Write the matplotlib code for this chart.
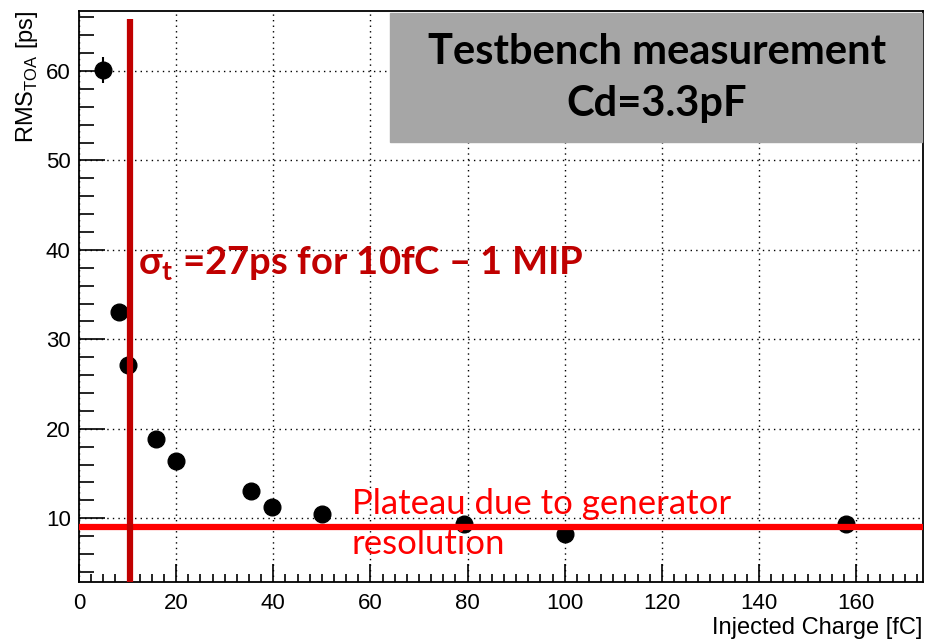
import numpy as np
import matplotlib
matplotlib.use("Agg")
import matplotlib.pyplot as plt
from matplotlib.ticker import MultipleLocator

# time resolution vs injected charge
charge_fc = [5.0, 8.2, 10.0, 15.8, 19.9, 35.4, 39.7, 50.0, 79.3, 100.0, 158.0]
rms_ps = [60.1, 33.0, 27.1, 18.9, 16.4, 13.0, 11.2, 10.5, 9.4, 8.2, 9.3]
rms_err = [1.5, 0.5, 0.5, 0.5, 0.6, 0.6, 0.6, 0.6, 0.5, 0.5, 0.5]

mip_charge = 10.5      # marker line at 1 MIP
plateau_rms = 9.0      # generator resolution floor

box_lines = ["Testbench measurement", "Cd=3.3pF"]
mip_text = r"σ$_\mathbf{t}$ =27ps for 10fC – 1 MIP"
plateau_text = "Plateau due to generator\nresolution"

plt.rcParams["font.family"] = ["Liberation Sans", "DejaVu Sans"]
plt.rcParams["mathtext.fontset"] = "custom"
plt.rcParams["mathtext.rm"] = "Liberation Sans"
plt.rcParams["mathtext.bf"] = "Lato:bold"

fig = plt.figure(figsize=(9.35, 6.41), dpi=100)
ax = fig.add_axes([0.0845, 0.0925, 0.9023, 0.8903])

ax.set_xlim(0, 173.7)
ax.set_ylim(2.9, 66.7)

ax.errorbar(charge_fc, rms_ps, yerr=rms_err, fmt="o", color="black",
            markersize=12, elinewidth=1.5, capsize=0, zorder=3)

# overlays
ax.axhline(plateau_rms, color="#ff0000", lw=4.5, zorder=4)
ax.plot([mip_charge, mip_charge], [2.9, 65.8], color="#c00000", lw=4.5,
        solid_capstyle="butt", zorder=4)

ax.xaxis.set_major_locator(MultipleLocator(20))
ax.xaxis.set_minor_locator(MultipleLocator(2.5))
ax.yaxis.set_major_locator(MultipleLocator(10))
ax.yaxis.set_minor_locator(MultipleLocator(2))
ax.tick_params(axis="y", which="major", direction="in", length=19, width=1.2,
               labelsize=16, pad=6)
ax.tick_params(axis="y", which="minor", direction="in", length=10.5, width=1.2)
ax.tick_params(axis="x", which="major", direction="in", length=13, width=1.2,
               labelsize=16, pad=8)
ax.tick_params(axis="x", which="minor", direction="in", length=6, width=1.2)
ax.grid(True, which="major", color="black", ls=(0, (1, 3)), lw=1.0)
for s in ax.spines.values():
    s.set_linewidth(1.3)

ax.set_xlabel("Injected Charge [fC]", fontsize=17, loc="right", labelpad=2)
ax.set_ylabel(r"RMS$_{\rm TOA}$ [ps]", fontsize=17, loc="top", labelpad=4)

# gray title box
box_x0 = 390 / 935
box_y0 = (641 - 142) / 641
box_w = (922 - 390) / 935
box_h = (142 - 13) / 641
fig.patches.append(plt.Rectangle((box_x0, box_y0), box_w, box_h,
                                 transform=fig.transFigure, color="#a6a6a6",
                                 zorder=5))
fig.text(657 / 935, 1 - 52 / 641, box_lines[0], ha="center", va="center",
         fontsize=30, fontweight="bold", family=["Lato", "DejaVu Sans"],
         zorder=6)
fig.text(657 / 935, 1 - 104 / 641, box_lines[1], ha="center", va="center",
         fontsize=30, fontweight="bold", family=["Lato", "DejaVu Sans"],
         zorder=6)

fig.text(138 / 935, 1 - 264 / 641, mip_text, ha="left", va="center",
         fontsize=27.5, fontweight="bold", color="#c00000",
         family=["Lato", "DejaVu Sans"], zorder=6)
fig.text(352 / 935, 1 - 524 / 641, plateau_text, ha="left", va="center",
         fontsize=25, color="#ff0000", family=["Lato", "DejaVu Sans"],
         linespacing=1.32, zorder=6)

fig.savefig("out.png", dpi=100)
